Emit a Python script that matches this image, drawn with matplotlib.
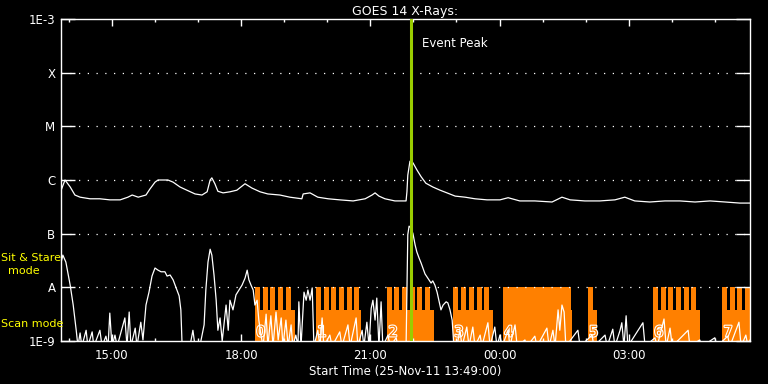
import matplotlib
matplotlib.use("Agg")
import matplotlib.pyplot as plt
import matplotlib.patheffects as pe
import numpy as np
from matplotlib.ticker import NullLocator

# time axis: hours after 25-Nov-11 00:00 (values > 24 are the next day)
T_START = 13.8167
T_END = 29.8167
EVENT_PEAK = 21.94

# GOES 14 long channel, log10 flux (W/m^2)
LONG_T = [13.82, 13.91, 14.03, 14.14, 14.26, 14.49, 14.72, 14.95, 15.19, 15.37,
          15.47, 15.61, 15.79, 15.88, 16.00, 16.07, 16.30, 16.42, 16.58, 16.74,
          16.93, 17.09, 17.21, 17.28, 17.32, 17.39, 17.46, 17.58, 17.74, 17.90,
          18.09, 18.25, 18.44, 18.62, 18.90, 19.13, 19.41, 19.44, 19.60, 19.78,
          20.02, 20.29, 20.60, 20.88, 21.04, 21.11, 21.20, 21.34, 21.57, 21.83,
          21.85, 21.87, 21.92, 21.99, 22.08, 22.18, 22.29, 22.45, 22.62, 22.78,
          22.97, 23.20, 23.43, 23.71, 24.01, 24.20, 24.47, 24.82, 25.22, 25.45,
          25.64, 25.98, 26.33, 26.68, 26.91, 27.14, 27.49, 27.84, 28.19, 28.54,
          28.89, 29.24, 29.58, 29.82]
LONG_LOG = [-6.19, -6.00, -6.13, -6.28, -6.32, -6.35, -6.35, -6.37, -6.37, -6.32,
            -6.28, -6.32, -6.28, -6.17, -6.04, -6.00, -6.00, -6.04, -6.13, -6.19,
            -6.26, -6.28, -6.22, -6.00, -5.96, -6.07, -6.21, -6.24, -6.22, -6.19,
            -6.07, -6.15, -6.22, -6.26, -6.28, -6.32, -6.35, -6.26, -6.24, -6.32,
            -6.35, -6.37, -6.39, -6.35, -6.28, -6.24, -6.30, -6.35, -6.39, -6.39,
            -6.22, -5.91, -5.65, -5.68, -5.81, -5.94, -6.06, -6.13, -6.19, -6.24,
            -6.30, -6.32, -6.35, -6.37, -6.37, -6.33, -6.39, -6.39, -6.41, -6.32,
            -6.37, -6.39, -6.39, -6.37, -6.32, -6.39, -6.41, -6.39, -6.39, -6.41,
            -6.39, -6.41, -6.43, -6.43]

# GOES 14 short channel, log10 flux (W/m^2)
SHORT_T = [13.82, 13.86, 13.93, 14.03, 14.10, 14.17, 14.21, 14.26, 14.30, 14.40,
           14.44, 14.54, 14.58, 14.72, 14.77, 14.86, 14.91, 14.95, 15.00, 15.07,
           15.12, 15.30, 15.35, 15.40, 15.44, 15.54, 15.58, 15.67, 15.72, 15.79,
           15.86, 15.93, 16.00, 16.07, 16.14, 16.23, 16.28, 16.35, 16.42, 16.49,
           16.56, 16.60, 16.63, 16.81, 16.88, 16.93, 17.04, 17.14, 17.18, 17.23,
           17.28, 17.32, 17.37, 17.42, 17.46, 17.51, 17.56, 17.60, 17.65, 17.70,
           17.74, 17.81, 17.88, 17.95, 18.02, 18.09, 18.14, 18.18, 18.23, 18.28,
           18.32, 18.37, 18.41, 18.46, 18.51, 18.58, 18.62, 18.69, 18.74, 18.81,
           18.86, 18.93, 18.97, 19.04, 19.09, 19.16, 19.20, 19.27, 19.32, 19.34,
           19.39, 19.46, 19.51, 19.55, 19.60, 19.65, 19.69, 19.78, 19.83, 19.88,
           19.92, 20.06, 20.11, 20.29, 20.34, 20.48, 20.53, 20.67, 20.71, 20.81,
           20.85, 20.92, 20.97, 21.02, 21.06, 21.11, 21.15, 21.20, 21.25, 21.29,
           21.41, 21.46, 21.60, 21.64, 21.78, 21.83, 21.85, 21.87, 21.90, 21.94,
           21.99, 22.04, 22.08, 22.13, 22.18, 22.22, 22.27, 22.32, 22.36, 22.41,
           22.45, 22.50, 22.55, 22.59, 22.64, 22.69, 22.76, 22.80, 22.85, 22.90,
           22.94, 23.01, 23.08, 23.13, 23.24, 23.29, 23.38, 23.43, 23.55, 23.59,
           23.73, 23.78, 23.89, 23.94, 24.01, 24.06, 24.20, 24.24, 24.36, 24.41,
           24.59, 24.64, 24.82, 24.87, 25.10, 25.15, 25.24, 25.29, 25.36, 25.40,
           25.45, 25.50, 25.54, 25.82, 25.87, 26.15, 26.19, 26.45, 26.50, 26.63,
           26.68, 26.80, 26.84, 26.89, 26.94, 26.98, 27.33, 27.38, 27.61, 27.66,
           27.82, 27.87, 27.96, 28.01, 28.38, 28.42, 28.65, 28.70, 29.00, 29.05,
           29.30, 29.35, 29.56, 29.61, 29.72, 29.77, 29.82]
SHORT_LOG = [-7.53, -7.40, -7.53, -7.96, -8.33, -8.80, -9.10, -8.85, -9.10, -8.80,
             -9.10, -8.83, -9.10, -8.80, -9.10, -8.91, -9.10, -8.48, -9.10, -8.89,
             -9.10, -8.57, -9.10, -8.46, -9.10, -8.76, -9.10, -8.65, -8.98, -8.33,
             -8.09, -7.79, -7.64, -7.68, -7.71, -7.71, -7.79, -7.77, -7.86, -8.01,
             -8.16, -8.42, -9.10, -9.10, -8.80, -9.10, -9.10, -8.70, -8.05, -7.53,
             -7.29, -7.40, -7.77, -8.24, -8.80, -8.57, -9.00, -8.70, -8.33, -8.80,
             -8.24, -8.42, -8.14, -8.05, -7.96, -7.83, -7.68, -7.86, -7.96, -8.05,
             -8.33, -8.24, -8.61, -8.89, -9.10, -8.50, -9.10, -8.53, -9.10, -8.46,
             -8.98, -8.57, -9.10, -8.61, -9.10, -8.70, -9.10, -8.89, -9.10, -8.27,
             -9.10, -8.09, -8.24, -8.05, -8.24, -8.01, -9.10, -8.80, -9.10, -8.57,
             -9.10, -8.89, -9.10, -8.83, -9.10, -8.70, -9.10, -8.57, -9.10, -8.80,
             -9.10, -8.65, -9.10, -8.39, -8.24, -8.61, -8.20, -9.10, -8.27, -9.10,
             -8.89, -9.10, -8.94, -9.10, -9.10, -9.10, -8.05, -7.02, -6.86, -6.89,
             -7.00, -7.21, -7.34, -7.45, -7.55, -7.64, -7.75, -7.81, -7.86, -7.92,
             -7.88, -7.96, -8.09, -8.24, -8.42, -8.33, -8.27, -8.29, -8.42, -8.61,
             -9.10, -9.10, -8.80, -9.10, -8.74, -9.10, -8.74, -9.10, -8.89, -9.10,
             -8.66, -9.10, -8.74, -9.10, -8.89, -9.10, -8.80, -9.10, -8.70, -9.10,
             -8.98, -9.10, -8.91, -9.10, -8.76, -9.10, -8.80, -9.10, -8.42, -8.80,
             -8.33, -8.46, -9.10, -8.80, -9.10, -8.89, -9.10, -8.89, -9.10, -8.78,
             -9.10, -8.80, -8.66, -9.10, -8.53, -9.10, -8.66, -9.10, -8.94, -9.10,
             -8.59, -9.10, -8.76, -9.10, -8.80, -9.10, -8.98, -9.10, -8.94, -9.10,
             -8.91, -9.10, -8.65, -9.10, -8.89, -9.10, -8.98]

# observing modes (orange): scan mode blocks and sit & stare pointings
SCAN_START = [18.32, 19.74, 21.39, 22.92, 24.08, 26.05, 27.56, 29.17]
SCAN_END = [19.25, 20.78, 22.48, 23.85, 25.68, 26.26, 28.65, 29.82]
SCAN_LABELS = ["0", "1", "2", "3", "4", "5", "6", "7"]
SIT_STARE_START = [18.32, 18.51, 18.67, 18.86, 19.04,
                   19.74, 19.92, 20.09, 20.27, 20.46, 20.62,
                   21.39, 21.55, 21.74, 21.92, 22.08, 22.27,
                   22.92, 23.11, 23.29, 23.48, 23.64,
                   24.08, 26.05,
                   27.56, 27.75, 27.91, 28.10, 28.28, 28.45,
                   29.17, 29.35, 29.51, 29.70]
SIT_STARE_HOURS = [0.12, 0.12, 0.12, 0.12, 0.12,
                   0.12, 0.12, 0.12, 0.12, 0.12, 0.12,
                   0.12, 0.12, 0.12, 0.12, 0.12, 0.12,
                   0.12, 0.12, 0.12, 0.12, 0.12,
                   1.58, 0.12,
                   0.12, 0.12, 0.12, 0.12, 0.12, 0.12,
                   0.12, 0.12, 0.12, 0.12]
SCAN_LEVEL = 10 ** -8.42
SIT_STARE_LEVEL = 1e-8

LEVELS = [1e-9, 1e-8, 1e-7, 1e-6, 1e-5, 1e-4, 1e-3]
LEVEL_LABELS = ["1E-9", "A", "B", "C", "M", "X", "1E-3"]
HOUR_TICKS = [15, 18, 21, 24, 27]
HOUR_LABELS = ["15:00", "18:00", "21:00", "00:00", "03:00"]
HOUR_MINOR = list(range(14, 30))

ORANGE = "#ff8000"
PEAK_GREEN = "#9acd00"


def main() -> None:
    fig = plt.figure(figsize=(7.68, 3.84), dpi=100, facecolor="black")
    ax = fig.add_axes([61 / 768, 1 - 341 / 384, 689 / 768, 322 / 384])
    ax.set_facecolor("black")
    ax.set_yscale("log")
    ax.set_ylim(1e-9, 1e-3)
    ax.set_xlim(T_START, T_END)

    for s, e in zip(SCAN_START, SCAN_END):
        ax.bar(s, SCAN_LEVEL - 1e-9, width=e - s, bottom=1e-9, align="edge",
               color=ORANGE, linewidth=0, zorder=1)
    for s, d in zip(SIT_STARE_START, SIT_STARE_HOURS):
        ax.bar(s, SIT_STARE_LEVEL - 1e-9, width=d, bottom=1e-9, align="edge",
               color=ORANGE, linewidth=0, zorder=1)
    # hollow white numbers marking each scan block
    for s, lbl in zip(SCAN_START, SCAN_LABELS):
        ax.text(s + 0.03, 10 ** -8.83, lbl, color=ORANGE, fontsize=10.5,
                va="center", ha="left", zorder=2,
                path_effects=[pe.withStroke(linewidth=1.6, foreground="white")])

    for lev in LEVELS[1:-1]:
        ax.axhline(lev, color="white", linewidth=0.9, linestyle=(0, (1, 6)), zorder=1.5)

    ax.plot(LONG_T, 10 ** np.array(LONG_LOG), color="white", linewidth=0.9, zorder=3)
    ax.plot(SHORT_T, 10 ** np.array(SHORT_LOG), color="white", linewidth=0.9, zorder=3)

    ax.axvline(EVENT_PEAK, color=PEAK_GREEN, linewidth=2.2, zorder=4)
    ax.text(EVENT_PEAK + 0.26, 10 ** -3.45, "Event Peak", color="white",
            fontsize=8.5, va="center", ha="left")

    for sp in ax.spines.values():
        sp.set_color("white")
        sp.set_linewidth(1.0)

    ax.set_yticks(LEVELS, LEVEL_LABELS)
    ax.yaxis.set_minor_locator(NullLocator())
    ax.set_xticks(HOUR_TICKS, HOUR_LABELS)
    ax.set_xticks(HOUR_MINOR, minor=True)
    ax.tick_params(axis="both", which="both", direction="in", colors="white",
                   top=True, right=True, labelsize=8.5)
    ax.tick_params(axis="y", which="major", length=10, width=1.0, pad=4)
    ax.tick_params(axis="x", which="major", length=5, width=1.0, pad=6)
    ax.tick_params(axis="x", which="minor", length=2.5, width=1.0)

    ax.set_title("GOES 14 X-Rays:", color="white", fontsize=9, pad=3)
    ax.set_xlabel("Start Time (25-Nov-11 13:49:00)", color="white", fontsize=8.5, labelpad=2)

    fig.text(1 / 768, 1 - 258 / 384, "Sit & Stare", color="yellow", fontsize=8,
             ha="left", va="center")
    fig.text(24 / 768, 1 - 271 / 384, "mode", color="yellow", fontsize=8,
             ha="center", va="center")
    fig.text(1 / 768, 1 - 324 / 384, "Scan mode", color="yellow", fontsize=8,
             ha="left", va="center")

    fig.savefig("out.png", dpi=100, facecolor="black")


if __name__ == "__main__":
    main()
